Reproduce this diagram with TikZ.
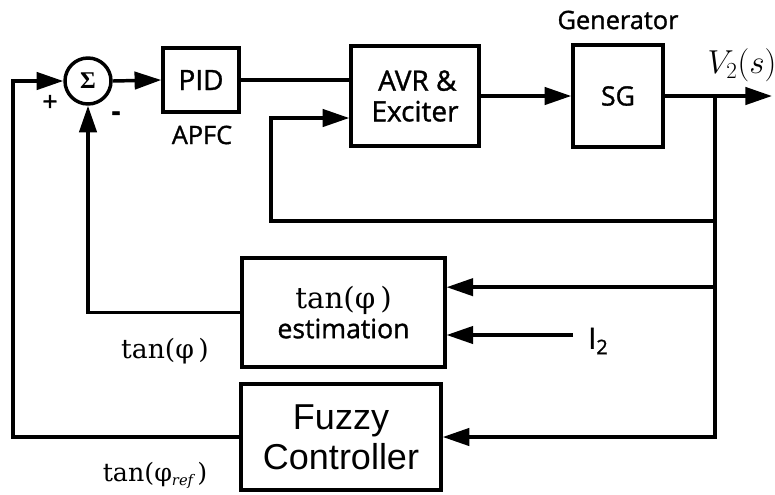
\documentclass[tikz,border=0pt]{standalone}
\usepackage{fontspec}
\setmainfont{DejaVu Serif}
\newfontfamily\lbsans[FakeBold=1.2]{Open Sans}
\newfontfamily\arial{Liberation Sans}
\newfontfamily\sigfont{Liberation Serif}
\usetikzlibrary{arrows.meta,calc}
\begin{document}
\begin{tikzpicture}[x=0.75pt,y=-0.75pt,line width=2.6pt,
  blk/.style={draw,line width=2.6pt,inner sep=0pt,align=center,font=\lbsans\fontsize{20}{24}\selectfont},
  arr/.style={-{Triangle[length=20pt,width=13pt]}},
  lbl/.style={inner sep=0pt}]
\useasboundingbox (0,0) rectangle (775,494);
% blocks
\node[draw,circle,line width=2.6pt,minimum size=34.5pt,inner sep=0pt,font=\sigfont\bfseries\fontsize{18}{18}\selectfont] (ci) at (88,81) {Σ};
\node[blk,minimum width=57pt,minimum height=48pt,font=\lbsans\fontsize{21}{24}\selectfont] (pid) at (201,80) {PID};
\node[blk,minimum width=96pt,minimum height=75pt,font=\lbsans\fontsize{21}{23}\selectfont] (avr) at (415,96) {\,AVR \&\\Exciter};
\node[blk,minimum width=67.5pt,minimum height=76.5pt,font=\lbsans\fontsize{20}{20}\selectfont] (sg) at (618,96) {SG};
\node[blk,minimum width=152pt,minimum height=82pt] (est) at (343.5,312.5) {{\fontsize{22}{22}\selectfont\rmfamily tan(φ\,)}\\[-2pt]estimation};
\node[blk,minimum width=150pt,minimum height=79.5pt,font=\arial\fontsize{27}{30}\selectfont] (fz) at (341,437) {Fuzzy\\Controller};
% labels
\node[lbl,font=\lbsans\fontsize{19}{19}\selectfont] (apfc) at (202,135) {APFC};
\node[lbl,font=\lbsans\fontsize{19}{19}\selectfont] (gen) at (618,20) {Generator};
\node[lbl,font=\fontsize{23}{23}\selectfont] (v2) at (742,65) {$V_2(s)$};
\node[lbl,font=\fontsize{20}{20}\selectfont] (tphi) at (165,351) {tan(φ\,)};
\node[lbl,font=\fontsize{19}{19}\selectfont] (tref) at (155,475) {tan(φ{\fontsize{11}{11}\selectfont\raisebox{-3pt}{\itshape ref}}\,)};
\node[lbl,font=\lbsans\fontsize{20}{20}\selectfont] (plus) at (50,103) {+};
\node[lbl,font=\lbsans\bfseries\fontsize{20}{20}\selectfont] (minus) at (116,116) {-};
\node[lbl,font=\lbsans\fontsize{22}{22}\selectfont] (i2) at (598,341) {I\raisebox{-4pt}{\fontsize{15}{15}\selectfont 2}};
% coordinates
\coordinate (lc) at (13,0);
\coordinate (br) at (715,96);
\coordinate (out) at (772,96);
\coordinate (lp) at (271,221);
\coordinate (i2s) at (573,335);
% connectors
\draw[arr] (ci.east) -- (pid.west);
\draw (pid.east) -- (pid.east -| avr.west);
\draw[arr] (avr.east) -- (sg.west);
\draw[arr] (sg.east) -- (out);
\draw[arr] (br) |- (lp) |- ([yshift=-16.5pt]avr.west);
\draw[arr] (br) |- ([yshift=19pt]est.east);
\draw[arr] (br) |- (fz.east);
\draw[arr] (i2s) -- (i2s -| est.east);
\draw[arr] (est.west) -| (ci.south);
\draw[arr] (fz.west) -| (lc |- ci) -- (ci.west);
\end{tikzpicture}
\end{document}
